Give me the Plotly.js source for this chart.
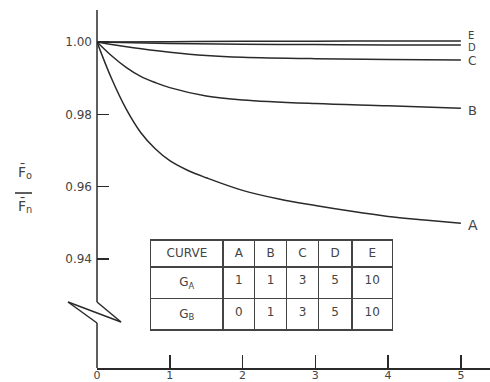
<!DOCTYPE html>
<html>
<head>
<meta charset="utf-8">
<script src="https://cdn.plot.ly/plotly-3.0.1.min.js"></script>
<style>html,body{margin:0;padding:0;background:#fff;}#chart{width:490px;height:382px;}</style>
</head>
<body>
<div id="chart"></div>
<script>
// ---- data ----
const curveNames = ["A", "B", "C", "D", "E"];
const xA = [0, 0.2, 0.4, 0.6, 0.8, 1, 1.25, 1.5, 2, 2.5, 3, 3.5, 4, 4.5, 5];
const yA = [1.0, 0.9899, 0.9815, 0.9750, 0.9705, 0.9672, 0.9645, 0.9625, 0.9590, 0.9566, 0.9548, 0.9532, 0.9518, 0.9508, 0.9499];
const xB = [0, 0.2, 0.4, 0.6, 0.8, 1, 1.5, 2, 3, 4, 5];
const yB = [1.0, 0.9962, 0.9930, 0.9905, 0.9888, 0.9874, 0.9851, 0.9840, 0.9830, 0.9824, 0.9817];
const xC = [0, 0.5, 1, 1.5, 2, 3, 4, 5];
const yC = [1.0, 0.9984, 0.9972, 0.9963, 0.9958, 0.9954, 0.9952, 0.9950];
const xD = [0, 1, 2, 3, 4, 5];
const yD = [1.0, 0.9996, 0.9994, 0.9993, 0.9992, 0.9992];
const xE = [0, 1, 2, 3, 4, 5];
const yE = [1.0, 1.0001, 1.0002, 1.0002, 1.0003, 1.0003];

const xTicks = [0, 1, 2, 3, 4, 5];
const yTicks = [1.00, 0.98, 0.96, 0.94];
const yTickText = ["1.00", "0.98", "0.96", "0.94"];

const tableHeader = ["CURVE", "A", "B", "C", "D", "E"];
const rowLabels = ["G<sub>A</sub>", "G<sub>B</sub>"];
const gA = [1, 1, 3, 5, 10];
const gB = [0, 1, 3, 5, 10];

// ---- drawing ----
const ink = "#2a2a2a";
const txt = "#444";
const fontFam = "DejaVu Sans, Liberation Sans, sans-serif";

const xs = [xA, xB, xC, xD, xE];
const ys = [yA, yB, yC, yD, yE];
const traces = curveNames.map((n, i) => ({
  type: "scatter", mode: "lines", name: n,
  x: xs[i], y: ys[i],
  line: {color: ink, width: 1.5, shape: "spline", smoothing: 1},
  hoverinfo: "skip", showlegend: false
}));

const cellCols = [rowLabels].concat(gA.map((v, i) => [v, gB[i]]));
traces.push({
  type: "table",
  domain: {x: [0.1366, 0.754], y: [0.10, 0.3575]},
  columnwidth: [72.6, 31.7, 31.7, 32.3, 33.3, 41],
  header: {
    values: tableHeader,
    height: 27,
    align: "center",
    fill: {color: "#fff"},
    line: {color: "#444", width: 1.5},
    font: {family: fontFam, size: 12, color: txt}
  },
  cells: {
    values: cellCols,
    height: 27.5,
    align: "center",
    fill: {color: "#fff"},
    line: {color: "#444", width: 1.5},
    font: {family: fontFam, size: 12, color: txt}
  }
});

// label offsets (px) so the stacked end labels do not collide
const labelShift = {A: -2, B: -2, C: -1, D: -3, E: 5};
const labelSize = {A: 14, B: 13, C: 12, D: 10, E: 10};
const annotations = curveNames.map((n, i) => ({
  x: 5.07, y: ys[i][ys[i].length - 1], xref: "x", yref: "y",
  text: n, showarrow: false, xanchor: "left", yanchor: "middle",
  yshift: labelShift[n],
  font: {family: fontFam, size: labelSize[n], color: txt}
}));
annotations.push(
  {x: -0.205, y: 0.548, xref: "paper", yref: "paper", text: "F\u0304<sub>o</sub>",
   showarrow: false, xanchor: "left", yanchor: "middle", font: {family: fontFam, size: 14, color: txt}},
  {x: -0.205, y: 0.452, xref: "paper", yref: "paper", text: "F\u0304<sub>n</sub>",
   showarrow: false, xanchor: "left", yanchor: "middle", font: {family: fontFam, size: 14, color: txt}}
);

const W = 393, H = 358; // plot area px
const px = v => (v - 97) / W;
const py = v => (368 - v) / H;
const seg = (x0, y0, x1, y1) => ({
  type: "line", xref: "paper", yref: "paper",
  x0: px(x0), y0: py(y0), x1: px(x1), y1: py(y1),
  line: {color: ink, width: 1.5}
});
const shapes = [
  seg(97, 10, 97, 302),
  seg(97, 302, 121, 322),
  seg(68, 302, 121, 322),
  seg(68, 302, 97, 323),
  seg(97, 323, 97, 368),
  seg(15, 193, 32, 193)
];

const layout = {
  width: 490, height: 382,
  margin: {l: 97, r: 0, t: 10, b: 14, pad: 0},
  paper_bgcolor: "#fff", plot_bgcolor: "#fff",
  showlegend: false,
  xaxis: {
    range: [0, 5.4], showgrid: false, zeroline: false,
    showline: true, linecolor: ink, linewidth: 1.5,
    ticks: "inside", ticklen: 13, tickwidth: 1.5, tickcolor: ink,
    tickvals: xTicks, ticktext: xTicks.map(String),
    tickfont: {family: fontFam, size: 11, color: txt},
    ticklabelstandoff: -4,
    automargin: false, fixedrange: true
  },
  yaxis: {
    range: [0.9099, 1.00885], showgrid: false, zeroline: false,
    showline: false,
    ticks: "inside", ticklen: 12, tickwidth: 1.5, tickcolor: ink,
    tickvals: yTicks, ticktext: yTickText,
    tickfont: {family: fontFam, size: 12, color: txt},
    ticklabelstandoff: 4,
    automargin: false, fixedrange: true
  },
  shapes: shapes,
  annotations: annotations
};

Plotly.newPlot("chart", traces, layout, {staticPlot: true, displayModeBar: false});
</script>
</body>
</html>
